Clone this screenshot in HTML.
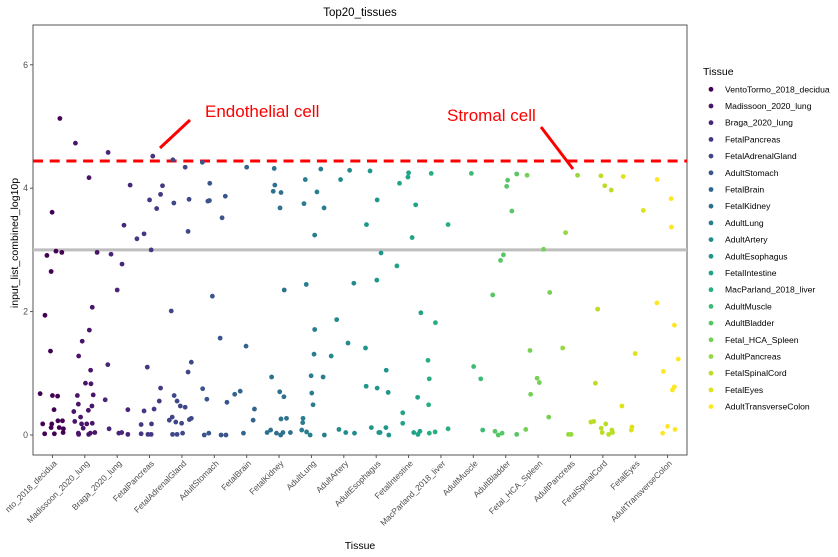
<!DOCTYPE html>
<html><head><meta charset="utf-8"><style>
body{margin:0;background:#fff}
svg{display:block;font-family:"Liberation Sans",Arial,sans-serif}
</style></head><body>
<svg id="chart" width="838" height="557" viewBox="0 0 838 557" xmlns="http://www.w3.org/2000/svg">
<rect width="838" height="557" fill="#fff"/>
<text x="360" y="16" font-size="11.5" text-anchor="middle" fill="#000">Top20_tissues</text>
<rect x="33" y="25" width="654" height="430" fill="none" stroke="#555" stroke-width="1"/>
<g id="yaxis"></g>
<g id="xaxis"></g>
<text transform="translate(18,243) rotate(-90)" font-size="10.5" text-anchor="middle" fill="#000">input_list_combined_log10p</text>
<text x="360" y="549" font-size="10.5" text-anchor="middle" fill="#000">Tissue</text>
<g id="refs"></g>
<g id="points"></g>
<g>
<text x="205" y="117" font-size="17" fill="#ff0000">Endothelial cell</text>
<line x1="160" y1="148" x2="190" y2="120" stroke="#ff0000" stroke-width="3"/>
<text x="447" y="121" font-size="17" fill="#ff0000">Stromal cell</text>
<line x1="541" y1="127" x2="573" y2="169" stroke="#ff0000" stroke-width="3"/>
</g>
<g id="legend">
<text x="703" y="75" font-size="10.5" fill="#000">Tissue</text>
</g>
</svg>
<script>
const categories = ["VentoTormo_2018_decidua","Madissoon_2020_lung","Braga_2020_lung","FetalPancreas","FetalAdrenalGland","AdultStomach","FetalBrain","FetalKidney","AdultLung","AdultArtery","AdultEsophagus","FetalIntestine","MacParland_2018_liver","AdultMuscle","AdultBladder","Fetal_HCA_Spleen","AdultPancreas","FetalSpinalCord","FetalEyes","AdultTransverseColon"];
const axisLabels = ["nto_2018_decidua","Madissoon_2020_lung","Braga_2020_lung","FetalPancreas","FetalAdrenalGland","AdultStomach","FetalBrain","FetalKidney","AdultLung","AdultArtery","AdultEsophagus","FetalIntestine","MacParland_2018_liver","AdultMuscle","AdultBladder","Fetal_HCA_Spleen","AdultPancreas","FetalSpinalCord","FetalEyes","AdultTransverseColon"];
const colors = ["#440154","#481568","#482677","#453781","#3F4788","#39558C","#32648E","#2D718E","#287D8E","#238A8D","#1F968B","#20A386","#29AF7F","#3CBC75","#56C667","#75D054","#95D840","#BADE28","#DDE318","#FDE725"];
const yTicks = [0,2,4,6];
const endothelialThreshold = 4.44;
const significanceLine = 3.0;
const values = [
[5.13,3.61,2.98,2.96,2.91,2.65,1.94,1.36,0.67,0.64,0.63,0.41,0.18,0.18,0.23,0.23,0.12,0.12,0.10,0.02,0.02,0.04],
[4.73,4.17,2.96,2.07,1.70,1.52,1.28,1.05,0.84,0.83,0.64,0.65,0.50,0.38,0.40,0.47,0.22,0.29,0.18,0.18,0.19,0.11,0.03,0.01,0.01,0.03,0.04],
[4.58,4.05,3.40,2.93,2.77,2.35,1.14,0.57,0.41,0.10,0.03,0.04,0.01],
[4.52,4.04,3.90,3.81,3.67,3.26,3.18,3.00,1.10,0.76,0.55,0.39,0.42,0.17,0.18,0.02,0.01,0.01],
[4.46,4.34,3.82,3.76,3.30,2.01,1.02,1.18,0.64,0.55,0.47,0.45,0.24,0.29,0.21,0.19,0.25,0.27,0.01,0.01,0.03],
[4.42,4.08,3.79,3.80,3.87,3.52,2.25,1.57,0.75,0.58,0.53,0.00,0.03,0.00,0.00],
[4.34,1.44,0.66,0.71,0.42,0.24,0.03],
[4.32,4.05,3.95,3.93,3.68,2.35,0.94,0.70,0.62,0.03,0.00,0.26,0.27,0.04,0.08,0.04,0.04],
[4.31,4.14,3.94,3.75,3.68,3.24,2.44,1.71,1.31,0.96,0.94,0.68,0.49,0.27,0.20,0.08,0.05,0.00,0.00],
[4.29,4.14,2.46,1.87,1.49,1.28,0.09,0.04,0.03],
[4.28,3.81,3.41,2.95,2.51,1.41,1.05,0.79,0.76,0.69,0.12,0.04,0.04,0.12,0.00],
[4.25,4.18,4.08,3.73,3.20,2.74,1.98,0.61,0.36,0.19,0.04,0.01,0.06],
[4.24,3.41,1.82,1.21,0.91,0.49,0.03,0.05,0.10],
[4.24,1.11,0.91,0.08],
[4.13,4.03,4.23,3.63,2.92,2.83,2.27,0.06,0.00,0.03,0.01],
[4.21,3.01,2.31,1.37,0.92,0.85,0.66,0.29,0.09],
[3.28,4.21,1.41,0.01,0.01],
[4.20,4.04,3.97,2.04,0.84,0.21,0.22,0.11,0.18,0.04,0.01,0.08,0.04],
[4.19,3.64,1.32,0.47,0.13,0.08],
[4.14,3.83,3.37,2.14,1.78,1.23,1.03,0.78,0.73,0.03,0.14,0.09]
];
const jitter = [
[0.23,-0.01,0.11,0.29,-0.17,-0.04,-0.23,-0.06,-0.38,0,0.16,0.05,-0.3,-0.02,0.17,0.31,-0.04,0.21,0.34,-0.24,0.06,0.33],
[-0.29,0.13,0.38,0.23,0.14,-0.08,-0.19,0.18,0.02,0.19,-0.23,0.26,-0.2,-0.34,0.11,0.22,-0.31,-0.13,-0.1,0.06,0.23,-0.05,-0.2,-0.19,0.12,0.17,0.31],
[-0.28,0.4,0.21,-0.19,0.15,0,-0.29,-0.37,0.33,-0.25,0.05,0.14,0.33],
[0.1,0.4,0.34,0,0.22,-0.17,-0.39,0.05,-0.07,0.34,0.3,-0.17,0.14,-0.26,0.06,-0.26,-0.05,0.05],
[-0.28,0.1,0.22,-0.25,0.19,-0.33,0.19,0.29,-0.24,-0.15,-0.05,0.1,-0.39,-0.3,-0.19,-0.01,0.23,0.29,-0.29,-0.15,0.02],
[-0.37,-0.14,-0.2,-0.15,0.34,0.24,-0.06,0.18,-0.36,-0.23,0.39,-0.31,-0.17,0.21,0.36],
[0,-0.02,-0.37,-0.2,0.24,0.2,-0.1],
[-0.15,-0.13,-0.18,0.06,0.03,0.16,-0.23,0.02,0.15,-0.08,0.05,0.06,0.23,-0.37,-0.26,0.12,0.35],
[0.29,-0.19,0.17,-0.23,0.39,0.1,-0.16,0.1,0.08,-0.01,0.36,0.01,0.05,-0.26,-0.27,-0.3,-0.15,-0.04,0.4],
[0.18,-0.1,0.31,-0.22,0.13,-0.39,-0.15,0.06,0.33],
[-0.19,0.03,-0.3,0.15,0.02,-0.33,0.31,-0.31,0.03,0.37,-0.15,0.08,0.12,0.3,0.39],
[0,-0.02,-0.28,0.22,0.11,-0.36,0.38,0.28,-0.18,-0.18,0.16,0.29,0.35],
[-0.3,0.22,-0.17,-0.4,-0.36,-0.38,-0.36,-0.18,0.22],
[-0.06,0.01,0.23,0.29],
[0.06,0.03,0.34,0.19,-0.07,-0.16,-0.4,-0.33,-0.23,-0.11,0.34],
[-0.34,0.17,0.36,-0.25,-0.03,0.04,-0.23,0.33,-0.38],
[-0.15,0.22,-0.24,-0.06,0.02],
[-0.06,0.06,0.26,-0.16,-0.23,-0.37,-0.28,-0.05,0.09,-0.02,0.18,0.28,0.3],
[-0.37,0.25,0,-0.41,-0.1,-0.12],
[-0.32,0.11,0.12,-0.33,0.21,0.33,-0.13,0.21,0.15,-0.15,0,0.23]
];

const NS = "http://www.w3.org/2000/svg";
const PX0 = 33, PX1 = 687, PY0 = 25, PY1 = 455;
const band = (PX1 - PX0) / (categories.length - 1 + 1.2);
function xScale(i){ return PX0 + band * (0.6 + i); }
function yScale(v){ return 435 - 61.7 * v; }
function mk(tag, attrs, parent){ const e = document.createElementNS(NS, tag); for (const k in attrs) e.setAttribute(k, attrs[k]); parent.appendChild(e); return e; }

const yaxis = document.getElementById('yaxis');
yTicks.forEach(t => {
  const tk = mk('line', {x1: PX0 - 3, x2: PX0, y1: yScale(t), y2: yScale(t), stroke: '#555'}, yaxis);
  
  
  const lb = mk('text', {x: PX0 - 5, y: yScale(t) + 3, 'font-size': 8.8, 'text-anchor': 'end', fill: '#4d4d4d'}, yaxis);
  lb.textContent = t;
  
  
});

const xaxis = document.getElementById('xaxis');
axisLabels.forEach((c, i) => {
  const x = xScale(i);
  const tk = mk('line', {x1: x, x2: x, y1: PY1, y2: PY1 + 3, stroke: '#555'}, xaxis);
  
  
  const lb = mk('text', {transform: 'translate(' + (x + 5) + ',' + (PY1 + 9) + ') rotate(-45)', 'font-size': 8.4, 'text-anchor': 'end', fill: '#4d4d4d'}, xaxis);
  lb.textContent = c;
  
  
});

const refs = document.getElementById('refs');
const gl = mk('line', {x1: PX0, x2: PX1, y1: yScale(significanceLine), y2: yScale(significanceLine), stroke: '#bebebe', 'stroke-width': 3}, refs);


const rl = mk('line', {x1: PX0, x2: PX1, y1: yScale(endothelialThreshold), y2: yScale(endothelialThreshold), stroke: '#ff0000', 'stroke-width': 3, 'stroke-dasharray': '10 6.7'}, refs);



const pts = document.getElementById('points');
values.forEach((arr, ci) => {
  arr.forEach((v, k) => {
    const c = mk('circle', {cx: xScale(ci) + jitter[ci][k] * band, cy: yScale(v), r: 2.4, fill: colors[ci]}, pts);
    
    
  });
});

const leg = document.getElementById('legend');
categories.forEach((c, i) => {
  const y = 89.3 + 16.7 * i;
  const d = mk('circle', {cx: 711, cy: y, r: 2.4, fill: colors[i]}, leg);
  
  
  const t = mk('text', {x: 725, y: y + 3, 'font-size': 8.6, fill: '#000'}, leg);
  t.textContent = c;
  
  
});
</script>
</body></html>
